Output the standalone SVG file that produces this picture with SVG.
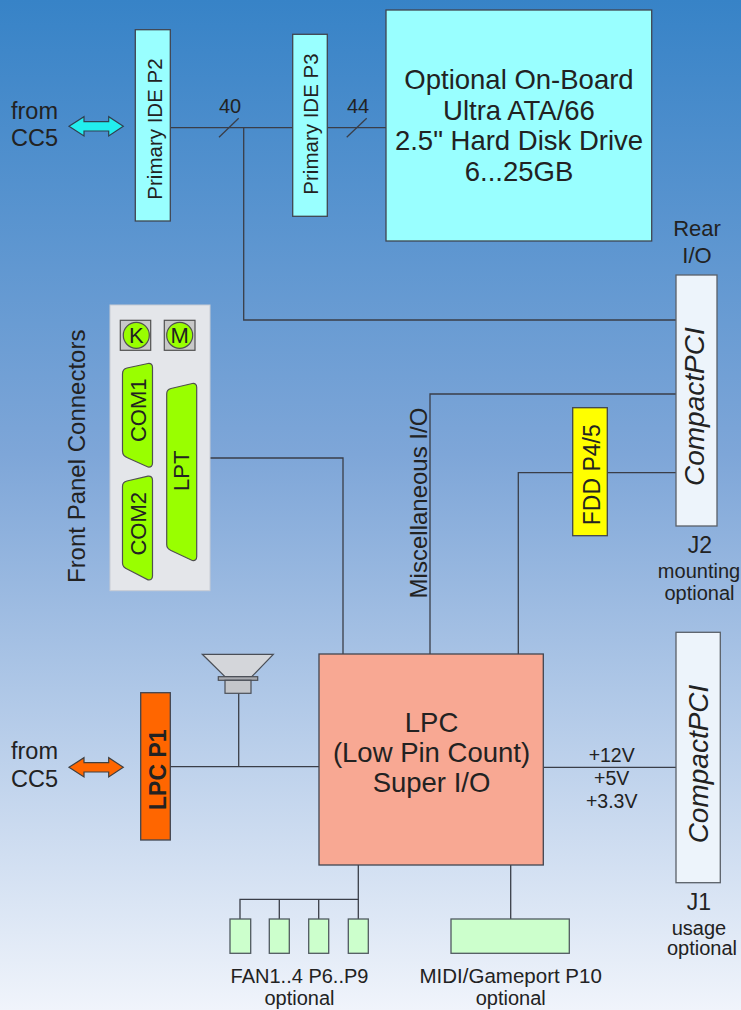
<svg xmlns="http://www.w3.org/2000/svg" width="741" height="1010" viewBox="0 0 741 1010">
<defs>
<linearGradient id="bg" x1="0" y1="0" x2="0" y2="1">
<stop offset="0" stop-color="#3783c7"/>
<stop offset="0.45" stop-color="#7ea6d8"/>
<stop offset="1" stop-color="#f0f4fb"/>
</linearGradient>
<style>
text{font-family:"Liberation Sans",Arial,sans-serif;fill:#222;}
.c{text-anchor:middle;}
.ln{stroke:#3a3e48;stroke-width:1.3;fill:none;}
.box{stroke:#404550;stroke-width:1.3;}
.cyan{fill:#99ffff;}
.green{fill:#99ff00;stroke:#505050;stroke-width:1.2;}
.lg{fill:#ccffcc;stroke:#505a60;stroke-width:1.3;}
.cpci{fill:#edf4fb;stroke:#5a6068;stroke-width:1.3;}
</style>
</defs>
<rect x="0" y="0" width="741" height="1010" fill="url(#bg)"/>

<g id="connectors">
<line class="ln" x1="170" y1="127.7" x2="293" y2="127.7"/>
<line class="ln" x1="327" y1="127.7" x2="386" y2="127.7"/>
<line class="ln" x1="219" y1="137.3" x2="238.7" y2="118.3"/>
<line class="ln" x1="346.7" y1="137.3" x2="366.7" y2="118.3"/>
<polyline class="ln" points="243.7,127.7 243.7,320 676,320"/>
<polyline class="ln" points="676,394 430,394 430,654"/>
<polyline class="ln" points="676,472.7 518.3,472.7 518.3,654"/>
<polyline class="ln" points="210,458 343,458 343,654"/>
<line class="ln" x1="170" y1="766.7" x2="319" y2="766.7"/>
<line class="ln" x1="238.7" y1="693.3" x2="238.7" y2="766.7"/>
<line class="ln" x1="543.3" y1="767.3" x2="676" y2="767.3"/>
<polyline class="ln" points="358.3,865 358.3,899.3 240,899.3 240,919"/>
<line class="ln" x1="279.3" y1="899.3" x2="279.3" y2="919"/>
<line class="ln" x1="318.7" y1="899.3" x2="318.7" y2="919"/>
<line class="ln" x1="358.3" y1="899.3" x2="358.3" y2="919"/>
<line class="ln" x1="510.7" y1="865" x2="510.7" y2="919"/>
</g>

<g id="labels-lines">
<text x="230" y="113" class="c" font-size="20">40</text>
<text x="358" y="113" class="c" font-size="20">44</text>
<text x="611.7" y="761.7" class="c" font-size="19.5">+12V</text>
<text x="611.7" y="785" class="c" font-size="19.5">+5V</text>
<text x="611.7" y="807.7" class="c" font-size="19.5">+3.3V</text>
<text transform="translate(426.7,503) rotate(-90)" class="c" font-size="24">Miscellaneous I/O</text>
</g>

<g id="from-cc5-top">
<text x="34.5" y="119" class="c" font-size="23.5">from</text>
<text x="34.5" y="145.7" class="c" font-size="23.5">CC5</text>
<polygon points="69,126.3 84,116.7 84,121.7 108.7,121.7 108.7,116.7 123.3,126.3 108.7,136 108.7,131 84,131 84,136" fill="#22eeee" stroke="#304050" stroke-width="1.2"/>
</g>

<g id="ide-p2">
<rect x="135.3" y="29.7" width="35" height="191.3" class="box cyan"/>
<text transform="translate(162,129) rotate(-90)" class="c" font-size="20.5">Primary IDE P2</text>
</g>

<g id="ide-p3">
<rect x="292.7" y="34.3" width="34.6" height="182" class="box cyan"/>
<text transform="translate(318.3,124) rotate(-90)" class="c" font-size="20.5">Primary IDE P3</text>
</g>

<g id="hdd">
<rect x="386" y="10" width="265.7" height="231" class="box cyan"/>
<text x="519" y="89.3" class="c" font-size="27.5">Optional On-Board</text>
<text x="519" y="119.5" class="c" font-size="27.5">Ultra ATA/66</text>
<text x="519" y="150" class="c" font-size="27.5">2.5" Hard Disk Drive</text>
<text x="519" y="180.5" class="c" font-size="27.5">6...25GB</text>
</g>

<g id="j2">
<text x="697" y="236" class="c" font-size="22">Rear</text>
<text x="697" y="263.3" class="c" font-size="22">I/O</text>
<rect x="676" y="275" width="41" height="251" class="cpci"/>
<text transform="translate(704,406.7) rotate(-90)" class="c" font-size="28" font-style="italic">CompactPCI</text>
<text x="700" y="553.3" class="c" font-size="23">J2</text>
<text x="699" y="578.3" class="c" font-size="20">mounting</text>
<text x="699.5" y="600" class="c" font-size="20">optional</text>
</g>

<g id="fdd">
<rect x="572.7" y="407.7" width="34.6" height="128" class="box" fill="#ffff00"/>
<text transform="translate(600,474.7) rotate(-90)" class="c" font-size="23">FDD P4/5</text>
</g>

<g id="front-panel">
<text transform="translate(85,456.3) rotate(-90)" class="c" font-size="24">Front Panel Connectors</text>
<rect x="110" y="305" width="100" height="285.7" fill="#e4e6ea" stroke="#c8ccd4" stroke-width="1"/>
<rect x="120.3" y="320.3" width="30.4" height="30" fill="#c8c8c8" stroke="#505050" stroke-width="1.2"/>
<circle cx="136.3" cy="335.3" r="13" class="green"/>
<text x="136.3" y="343.3" class="c" font-size="22">K</text>
<rect x="164.3" y="320.3" width="30.7" height="30" fill="#c8c8c8" stroke="#505050" stroke-width="1.2"/>
<circle cx="179.7" cy="335.3" r="13" class="green"/>
<text x="179.7" y="343.3" class="c" font-size="22">M</text>
<path class="green" d="M122.5,374 Q122.5,369 127,368 L148,363.5 Q152.5,363 152.5,367.5 L152.5,463 Q152.5,467.5 148,467 L128,458 Q122.5,456 122.5,451 Z"/>
<text transform="translate(146,410.3) rotate(-90)" class="c" font-size="22">COM1</text>
<path class="green" d="M122.5,486.5 Q122.5,482 127,481 L148,476.2 Q152.5,475.8 152.5,480.3 L152.5,576 Q152.5,580.3 148,579.8 L128,569.5 Q122.5,567.5 122.5,563 Z"/>
<text transform="translate(146,523.8) rotate(-90)" class="c" font-size="22">COM2</text>
<path class="green" d="M166.7,394 Q166.7,389.5 171,388.5 L192.3,383.5 Q196.7,383 196.7,387.5 L196.7,556.5 Q196.7,561 192.3,560.5 L171,550.5 Q166.7,548.5 166.7,544.5 Z"/>
<text transform="translate(189.3,470.8) rotate(-90)" class="c" font-size="22">LPT</text>
</g>

<g id="speaker">
<polygon points="202.3,654.3 273.3,654.3 251.7,676.7 225,676.7" fill="#d4d6da" stroke="#4a4e56" stroke-width="1.2"/>
<rect x="218.3" y="676.7" width="39.4" height="3.6" fill="#a8aab0" stroke="#4a4e56" stroke-width="1.2"/>
<rect x="225" y="680.3" width="26" height="13" fill="#c4c6ca" stroke="#4a4e56" stroke-width="1.2"/>
</g>

<g id="from-cc5-bottom">
<text x="34.5" y="759.3" class="c" font-size="23.5">from</text>
<text x="34.5" y="786.7" class="c" font-size="23.5">CC5</text>
<polygon points="69,767.3 84,757.7 84,762.7 108.7,762.7 108.7,757.7 123.3,767.3 108.7,777 108.7,772 84,772 84,777" fill="#ff6600" stroke="#404040" stroke-width="1.2"/>
</g>

<g id="lpc-p1">
<rect x="140.7" y="692.7" width="29.6" height="147.3" class="box" fill="#ff6600"/>
<text transform="translate(165.7,769.7) rotate(-90)" class="c" font-size="23" font-weight="bold">LPC P1</text>
</g>

<g id="lpc">
<rect x="319" y="654" width="224.3" height="211" class="box" fill="#f8a893"/>
<text x="431.5" y="731.7" class="c" font-size="27.5">LPC</text>
<text x="431.5" y="761.7" class="c" font-size="27.5">(Low Pin Count)</text>
<text x="431.5" y="791.7" class="c" font-size="27.5">Super I/O</text>
</g>

<g id="j1">
<rect x="676" y="632.3" width="44.3" height="250.4" class="cpci"/>
<text transform="translate(708.3,764) rotate(-90)" class="c" font-size="28" font-style="italic">CompactPCI</text>
<text x="699" y="910" class="c" font-size="23">J1</text>
<text x="699" y="935" class="c" font-size="20">usage</text>
<text x="702" y="955" class="c" font-size="20">optional</text>
</g>

<g id="fans">
<rect x="230" y="919" width="20.7" height="34.3" class="lg"/>
<rect x="269.3" y="919" width="20" height="34.3" class="lg"/>
<rect x="308.7" y="919" width="20" height="34.3" class="lg"/>
<rect x="348.3" y="919" width="20" height="34.3" class="lg"/>
<text x="299.5" y="982.7" class="c" font-size="20">FAN1..4 P6..P9</text>
<text x="299.5" y="1005" class="c" font-size="20">optional</text>
</g>

<g id="midi">
<rect x="451" y="919" width="118.3" height="34.3" class="lg"/>
<text x="510.7" y="982.7" class="c" font-size="20.5">MIDI/Gameport P10</text>
<text x="510.7" y="1005" class="c" font-size="20">optional</text>
</g>
</svg>
